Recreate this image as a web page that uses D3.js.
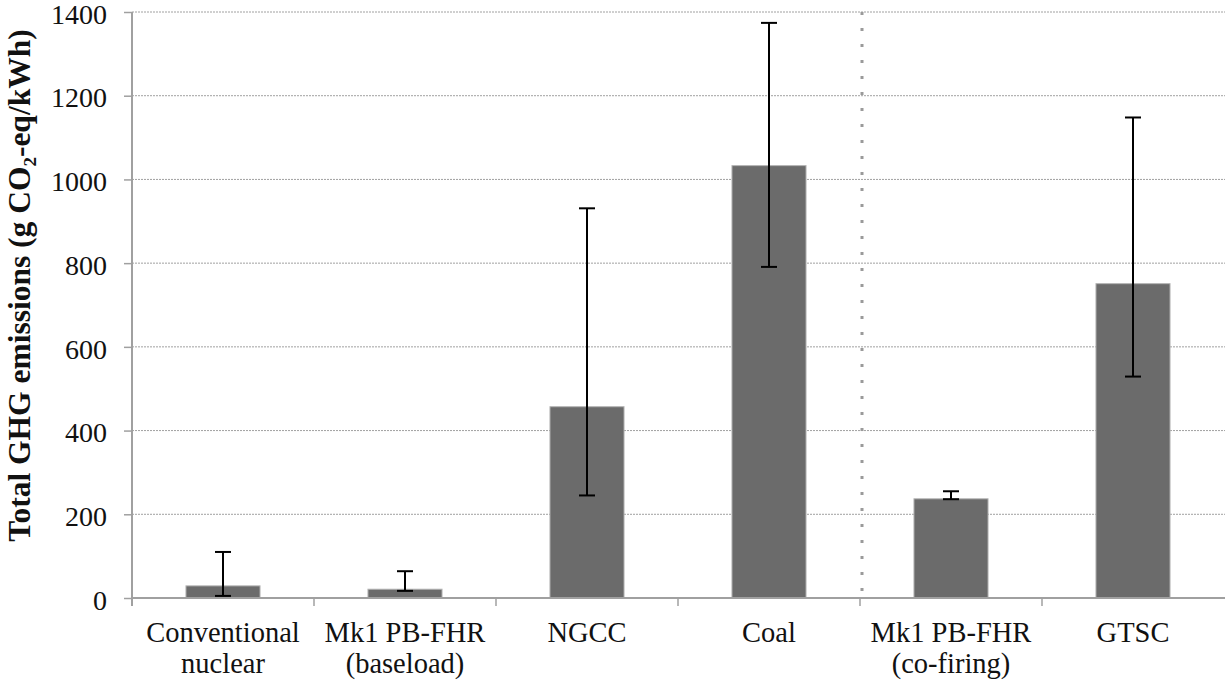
<!DOCTYPE html>
<html>
<head>
<meta charset="utf-8">
<script src="https://cdn.jsdelivr.net/npm/d3@7"></script>
<style>
  html, body { margin: 0; padding: 0; background: #fff; }
  svg { display: block; font-family: "Liberation Serif", "DejaVu Serif", serif; }
</style>
</head>
<body>
<svg id="chart" width="1225" height="683"></svg>
<script>
// Life-cycle GHG emissions by generation technology
const categories = [
  ["Conventional", "nuclear"],
  ["Mk1 PB-FHR", "(baseload)"],
  ["NGCC"],
  ["Coal"],
  ["Mk1 PB-FHR", "(co-firing)"],
  ["GTSC"]
];
const emissions = [29, 21, 457, 1033, 237, 751];   // central estimate
const rangeLow  = [5, 17, 245, 791, 236, 529];     // error bar bottom
const rangeHigh = [110, 64, 931, 1374, 255, 1148]; // error bar top
const yTicks = [0, 200, 400, 600, 800, 1000, 1200, 1400];
const yTitle = "Total GHG emissions (g CO₂-eq/kWh)";

const serif = "Liberation Serif, DejaVu Serif, serif";
const svg = d3.select("#chart");
const plotLeft = 132, plotRight = 1224, plotTop = 12, plotBottom = 598;
const ids = categories.map((c, i) => i);

const x = d3.scaleBand().domain(ids).range([plotLeft, plotRight])
  .paddingInner(0.593).paddingOuter(0.2965);
const y = d3.scaleLinear().domain([0, 1400]).range([plotBottom, plotTop]);
const step = x.step();
const gap = (step - x.bandwidth()) / 2;

// horizontal dotted gridlines
svg.append("g").selectAll("line").data(yTicks.filter(t => t > 0)).join("line")
  .attr("x1", plotLeft).attr("x2", plotRight + 1)
  .attr("y1", d => y(d)).attr("y2", d => y(d))
  .attr("stroke", "#a0a0a0").attr("stroke-width", 1)
  .attr("stroke-dasharray", "2,1");

// separator between baseload and co-firing groups
const sepX = x(4) - gap + 2;
svg.append("line")
  .attr("x1", sepX).attr("x2", sepX)
  .attr("y1", y(1400)).attr("y2", y(0))
  .attr("stroke", "#9a9a9a").attr("stroke-width", 3)
  .attr("stroke-dasharray", "3,13");

// bars
svg.append("g").selectAll("rect").data(ids).join("rect")
  .attr("x", i => x(i)).attr("width", x.bandwidth())
  .attr("y", i => y(emissions[i])).attr("height", i => y(0) - y(emissions[i]))
  .attr("fill", "#6b6b6b").attr("stroke", "#b4b4b4").attr("stroke-width", 1);

// error bars
const eb = svg.append("g").attr("stroke", "#000").attr("stroke-width", 2);
ids.forEach(i => {
  const cx = x(i) + x.bandwidth() / 2;
  eb.append("line").attr("x1", cx).attr("x2", cx)
    .attr("y1", y(rangeLow[i])).attr("y2", y(rangeHigh[i]));
  [rangeLow[i], rangeHigh[i]].forEach(v => {
    eb.append("line").attr("x1", cx - 8).attr("x2", cx + 8)
      .attr("y1", y(v)).attr("y2", y(v));
  });
});

// y axis
const yAxis = d3.axisLeft(y).tickValues(yTicks).tickSize(8).tickPadding(17)
  .tickFormat(d3.format("d"));
const gy = svg.append("g").attr("transform", `translate(${plotLeft},0)`).call(yAxis);
gy.attr("font-family", serif);
gy.select(".domain").attr("stroke", "#a0a0a0").attr("stroke-width", 2)
  .attr("d", `M0,${plotTop}V${plotBottom + 8}`);
gy.selectAll(".tick line").attr("stroke", "#a0a0a0").attr("stroke-width", 1.5);
gy.selectAll(".tick text").attr("font-size", 28).attr("fill", "#111")
  .attr("font-family", serif).attr("dy", "0.4em");

// x axis
const boundaries = ids.slice(1).map(i => x(i) - gap);
svg.append("line").attr("x1", plotLeft).attr("x2", plotRight + 1)
  .attr("y1", plotBottom).attr("y2", plotBottom)
  .attr("stroke", "#a0a0a0").attr("stroke-width", 2);
svg.append("g").selectAll("line").data(boundaries).join("line")
  .attr("x1", d => d).attr("x2", d => d)
  .attr("y1", plotBottom).attr("y2", plotBottom + 8)
  .attr("stroke", "#a0a0a0").attr("stroke-width", 1.5);

// category labels
const lab = svg.append("g").attr("font-size", 28.5).attr("fill", "#111")
  .attr("font-family", serif).attr("text-anchor", "middle");
ids.forEach(i => {
  const cx = x(i) + x.bandwidth() / 2;
  const t = lab.append("text").attr("x", cx).attr("y", 642);
  categories[i].forEach((line, k) => {
    t.append("tspan").attr("x", cx).attr("dy", k === 0 ? 0 : 31).text(line);
  });
});

// y axis title
svg.append("text")
  .attr("transform", `translate(30,${(28 + 543) / 2}) rotate(-90)`)
  .attr("text-anchor", "middle").attr("font-weight", "bold")
  .attr("font-family", serif)
  .attr("font-size", 31.5).attr("fill", "#111")
  .text(yTitle);
</script>
</body>
</html>
